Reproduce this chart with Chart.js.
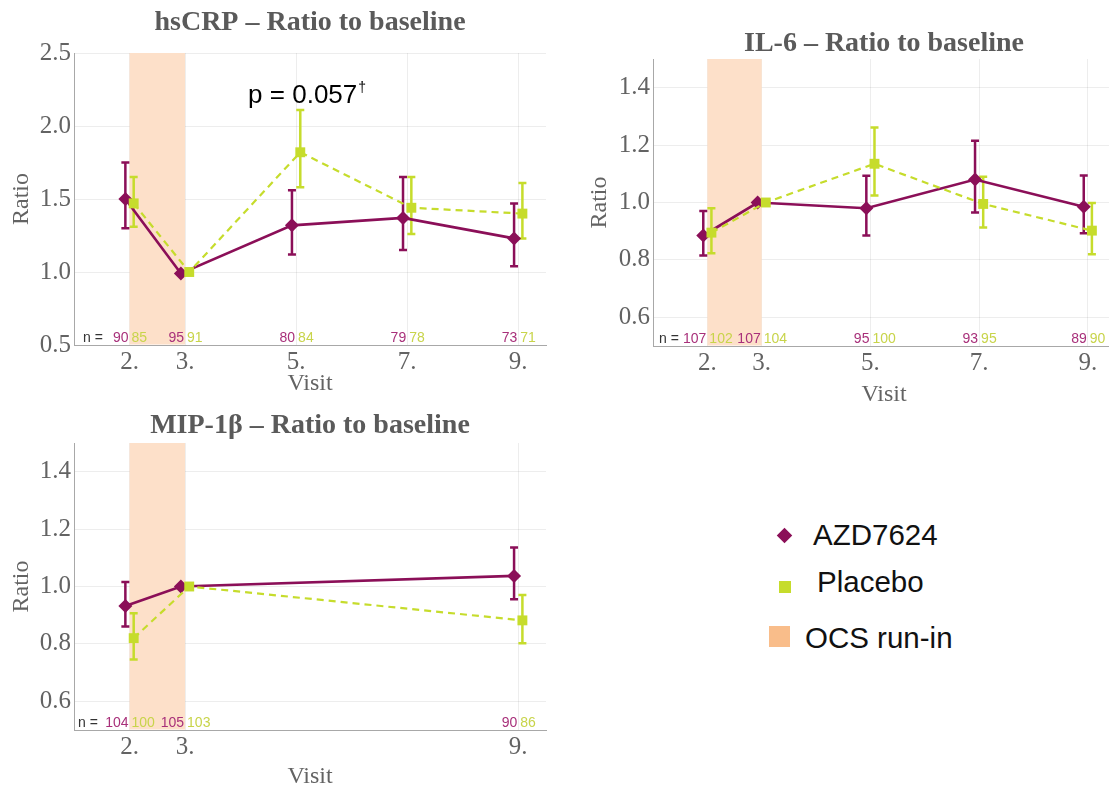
<!DOCTYPE html>
<html>
<head>
<meta charset="utf-8">
<script src="https://cdn.jsdelivr.net/npm/chart.js@4.4.1/dist/chart.umd.min.js"></script>
<style>
html, body { margin: 0; padding: 0; background: #fff; }
body { width: 1109px; height: 792px; overflow: hidden; position: relative; }
.pane { position: absolute; }
.lg { position: absolute; font-family: "Liberation Sans", Arial, sans-serif; font-size: 29.5px; line-height: 29.5px; color: #111; white-space: nowrap; }
.mk { position: absolute; }
</style>
</head>
<body>
<div class="pane" style="left:0px;top:0px;width:560px;height:400px;"><canvas id="c1"></canvas></div>
<div class="pane" style="left:560px;top:20px;width:600px;height:390px;"><canvas id="c2"></canvas></div>
<div class="pane" style="left:0px;top:400px;width:560px;height:392px;"><canvas id="c3"></canvas></div>

<div class="mk" style="left:779px;top:530px;width:11px;height:11px;background:#8b0f58;transform:rotate(45deg);"></div>
<div class="lg" style="left:813px;top:520px;">AZD7624</div>
<div class="mk" style="left:779px;top:581px;width:12px;height:12px;background:#c6dc2c;"></div>
<div class="lg" style="left:817px;top:567px;">Placebo</div>
<div class="mk" style="left:769px;top:626px;width:21px;height:21px;background:#f9bd8a;"></div>
<div class="lg" style="left:805px;top:623px;">OCS run-in</div>

<script>
// ---------- data ----------
const visits = [2, 3, 5, 7, 9];
const visitsMip = [2, 3, 9];
const runIn = [2, 3];

const crpYTicks = [0.5, 1.0, 1.5, 2.0, 2.5];
const il6YTicks = [0.6, 0.8, 1.0, 1.2, 1.4];
const mipYTicks = [0.6, 0.8, 1.0, 1.2, 1.4];

const crpAzd   = [1.50, 0.99, 1.32, 1.37, 1.23];
const crpAzdLo = [1.30, null, 1.12, 1.15, 1.04];
const crpAzdHi = [1.75, null, 1.56, 1.65, 1.47];
const crpPlc   = [1.47, 1.00, 1.82, 1.44, 1.40];
const crpPlcLo = [1.31, null, 1.58, 1.26, 1.23];
const crpPlcHi = [1.65, null, 2.11, 1.65, 1.61];
const crpNAzd  = [90, 95, 80, 79, 73];
const crpNPlc  = [85, 91, 84, 78, 71];

const il6Azd   = [0.885, 1.00, 0.98, 1.08, 0.985];
const il6AzdLo = [0.815, null, 0.885, 0.965, 0.893];
const il6AzdHi = [0.970, null, 1.093, 1.215, 1.094];
const il6Plc   = [0.895, 1.00, 1.135, 0.995, 0.902];
const il6PlcLo = [0.823, null, 1.024, 0.913, 0.820];
const il6PlcHi = [0.980, null, 1.261, 1.090, 0.998];
const il6NAzd  = [107, 107, 95, 93, 89];
const il6NPlc  = [102, 104, 100, 95, 90];

const mipAzd   = [0.932, 1.00, 1.037];
const mipAzdLo = [0.861, null, 0.956];
const mipAzdHi = [1.016, null, 1.136];
const mipPlc   = [0.820, 1.00, 0.882];
const mipPlcLo = [0.746, null, 0.802];
const mipPlcHi = [0.907, null, 0.970];
const mipNAzd  = [104, 105, 90];
const mipNPlc  = [100, 103, 86];

// ---------- styling ----------
const AZD = '#8b0f58';
const PLC = '#c6dc2c';
const AZD_N = '#a8307a';
const PLC_N = '#c8d44a';
const RUNIN = '#fde0c9';
const SERIF = '"Liberation Serif", "Times New Roman", serif';
const SANS = '"Liberation Sans", Arial, sans-serif';
const GRID = 'rgba(0,0,0,0.07)';
const TXT = '#636363';
const OFF = 0.075;

const extras = {
  id: 'extras',
  beforeDatasetsDraw(chart) {
    const {ctx, chartArea: a, scales: {x, y}} = chart;
    ctx.save();
    const x0 = x.getPixelForValue(runIn[0]), x1 = x.getPixelForValue(runIn[1]);
    ctx.fillStyle = RUNIN;
    ctx.fillRect(x0, a.top, x1 - x0, a.bottom - a.top - 0.5);
    chart.data.datasets.forEach(ds => {
      ctx.strokeStyle = ds.borderColor;
      ctx.lineWidth = 2.5;
      ds.data.forEach((p, i) => {
        if (ds.lo[i] == null) return;
        const px = x.getPixelForValue(p.x);
        const yl = y.getPixelForValue(ds.lo[i]);
        const yh = y.getPixelForValue(ds.hi[i]);
        ctx.beginPath();
        ctx.moveTo(px, yl); ctx.lineTo(px, yh);
        ctx.moveTo(px - 4, yl); ctx.lineTo(px + 4, yl);
        ctx.moveTo(px - 4, yh); ctx.lineTo(px + 4, yh);
        ctx.stroke();
      });
    });
    ctx.restore();
  },
  afterDraw(chart) {
    const {ctx, chartArea: a, scales: {x, y}} = chart;
    const o = chart.options.plugins.extras;
    ctx.save();
    ctx.font = '14px ' + SANS;
    ctx.textBaseline = 'alphabetic';
    const by = a.bottom - 3;
    ctx.fillStyle = '#333';
    ctx.textAlign = 'left';
    ctx.fillText('n =', a.left + o.nLeft, by);
    o.visits.forEach((v, i) => {
      const px = x.getPixelForValue(v);
      ctx.fillStyle = AZD_N; ctx.textAlign = 'right';
      ctx.fillText(String(o.nAzd[i]), px - 1, by);
      ctx.fillStyle = PLC_N; ctx.textAlign = 'left';
      ctx.fillText(String(o.nPlc[i]), px + 2, by);
    });
    if (o.pText) {
      const px = x.getPixelForValue(o.pAt[0]) - 48;
      const py = y.getPixelForValue(o.pAt[1]);
      ctx.fillStyle = '#000';
      ctx.textAlign = 'left';
      ctx.font = '26px ' + SANS;
      ctx.fillText(o.pText, px, py);
      const w = ctx.measureText(o.pText).width;
      ctx.font = '14px ' + SANS;
      ctx.fillText('\u2020', px + w + 1, py - 11);
    }
    ctx.restore();
  }
};

function makePanel(id, o) {
  const pts = (xs, ys, off) => xs.map((v, i) => ({x: v + off, y: ys[i]}));
  return new Chart(document.getElementById(id), {
    type: 'line',
    data: {
      datasets: [
        { label: 'Placebo', data: pts(o.x, o.plc, OFF), borderColor: PLC, backgroundColor: PLC,
          pointBackgroundColor: PLC, pointBorderColor: PLC, borderWidth: 2.2, borderDash: [7, 5],
          pointStyle: 'rect', pointRadius: 7, pointBorderWidth: 0, lo: o.plcLo, hi: o.plcHi },
        { label: 'AZD7624', data: pts(o.x, o.azd, -OFF), borderColor: AZD, backgroundColor: AZD,
          pointBackgroundColor: AZD, pointBorderColor: AZD, borderWidth: 2.7,
          pointStyle: 'rectRot', pointRadius: 7, pointBorderWidth: 0, lo: o.azdLo, hi: o.azdHi }
      ]
    },
    options: {
      responsive: true, maintainAspectRatio: false, animation: false, devicePixelRatio: 1,
      layout: { padding: o.pad },
      plugins: {
        legend: { display: false },
        tooltip: { enabled: false },
        title: { display: true, text: o.title, fullSize: false, color: '#5a5a5a',
                 font: { family: SERIF, size: 28, weight: 'bold', lineHeight: 1.1 }, padding: o.titlePad },
        extras: { visits: o.x, nAzd: o.nAzd, nPlc: o.nPlc, nLeft: o.nLeft, pText: o.pText, pAt: o.pAt }
      },
      scales: {
        x: {
          type: 'linear', min: 1, max: 9.5,
          afterBuildTicks: s => { s.ticks = o.x.map(v => ({value: v})); },
          afterFit: s => { s.height = o.xh; },
          ticks: { callback: v => v + '.', font: { family: SERIF, size: 25, lineHeight: 1.15 }, color: TXT, padding: 3,
                   maxRotation: 0, autoSkip: false },
          grid: { color: GRID, drawTicks: false },
          border: { color: '#a8a8a8', width: 1 },
          title: { display: true, text: 'Visit', color: TXT, font: { family: SERIF, size: 24 },
                   padding: { top: 0, bottom: o.xtPad } }
        },
        y: {
          min: o.ymin, max: o.ymax,
          afterBuildTicks: s => { s.ticks = o.yt.map(v => ({value: v})); },
          afterFit: s => { s.width = o.yw; },
          ticks: { callback: v => Number(v).toFixed(1), font: { family: SERIF, size: 25 }, color: TXT, padding: 3 },
          grid: { color: GRID, drawTicks: false },
          border: { color: '#a8a8a8', width: 1 },
          title: { display: true, text: 'Ratio', color: TXT, font: { family: SERIF, size: 24 },
                   padding: { top: o.ytPad, bottom: 0 } }
        }
      }
    },
    plugins: [extras]
  });
}

makePanel('c1', {
  title: 'hsCRP \u2013 Ratio to baseline',
  x: visits, azd: crpAzd, azdLo: crpAzdLo, azdHi: crpAzdHi,
  plc: crpPlc, plcLo: crpPlcLo, plcHi: crpPlcHi, nAzd: crpNAzd, nPlc: crpNPlc,
  ymin: 0.5, ymax: 2.5, yt: crpYTicks,
  pad: { left: 0, right: 14, top: 0, bottom: 0 },
  titlePad: { top: 7.6, bottom: 14.6 },
  yw: 74, xh: 55, xtPad: 1.6, ytPad: 7.6, nLeft: 9,
  pText: 'p = 0.057', pAt: [5, 2.16]
});

makePanel('c2', {
  title: 'IL-6 \u2013 Ratio to baseline',
  x: visits, azd: il6Azd, azdLo: il6AzdLo, azdHi: il6AzdHi,
  plc: il6Plc, plcLo: il6PlcLo, plcHi: il6PlcHi, nAzd: il6NAzd, nPlc: il6NPlc,
  ymin: 0.5, ymax: 1.5, yt: il6YTicks,
  pad: { left: 0, right: 45, top: 0, bottom: 0 },
  titlePad: { top: 8.2, bottom: 0 },
  yw: 93, xh: 64, xtPad: 0.6, ytPad: 25.6, nLeft: 6
});

makePanel('c3', {
  title: 'MIP-1\u03B2 \u2013 Ratio to baseline',
  x: visitsMip, azd: mipAzd, azdLo: mipAzdLo, azdHi: mipAzdHi,
  plc: mipPlc, plcLo: mipPlcLo, plcHi: mipPlcHi, nAzd: mipNAzd, nPlc: mipNPlc,
  ymin: 0.5, ymax: 1.5, yt: mipYTicks,
  pad: { left: 0, right: 14, top: 0, bottom: 0 },
  titlePad: { top: 10.6, bottom: 1.6 },
  yw: 74, xh: 62, xtPad: 0.6, ytPad: 7.6, nLeft: 4
});
</script>
</body>
</html>
